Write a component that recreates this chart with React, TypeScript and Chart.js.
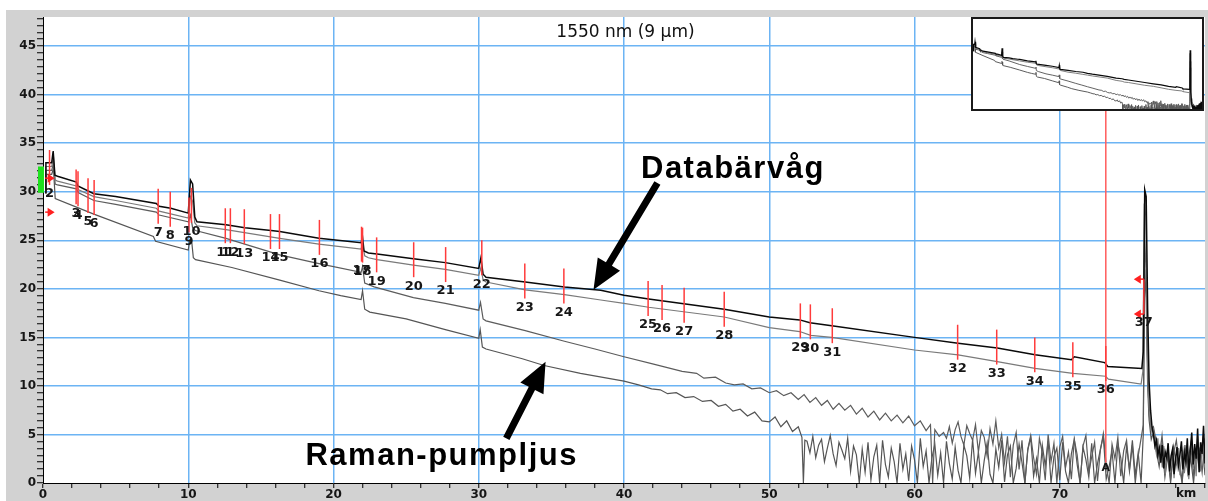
import React, { useEffect, useRef } from 'react';
import { Chart, registerables } from 'chart.js';

Chart.register(...registerables);

// ---------------- Data ----------------
const TITLE = '1550 nm (9 µm)';
const LABEL_DATA = 'Databärvåg';
const LABEL_RAMAN = 'Raman-pumpljus';
const X_MIN = 0;
const X_MAX = 80;
const Y_MIN = 0;
const Y_MAX = 48;
const X_UNIT = 'km';

// Trace A (black, data carrier)
const A_km = [0.15, 0.2, 0.6, 0.7, 0.82, 1.0, 2.3, 2.4, 3.5, 5.0, 7.8, 8.0, 8.8, 10.0, 10.15, 10.3, 10.45, 10.6, 12.6, 13.9, 15.7, 16.3, 19.0, 21.9, 22.0, 22.1, 22.4, 23.0, 25.5, 27.7, 30.0, 30.15, 30.3, 30.5, 33.2, 35.9, 38.4, 40.0, 41.7, 46.9, 50.0, 52.1, 52.8, 54.3, 60.0, 63.0, 65.7, 68.3, 70.8, 71.0, 73.1, 73.3, 75.65, 75.75, 75.85, 75.95, 76.05, 76.15, 76.25, 76.35];
const A_db = [29.9, 33.0, 33.0, 34.2, 31.7, 31.6, 31.0, 30.6, 29.8, 29.5, 28.8, 28.5, 28.3, 27.8, 31.2, 30.8, 27.4, 26.9, 26.6, 26.3, 26.0, 25.9, 25.2, 24.75, 25.3, 23.9, 23.7, 23.6, 23.1, 22.7, 22.1, 23.2, 21.5, 21.2, 20.7, 20.2, 19.85, 19.35, 18.95, 17.9, 17.1, 16.8, 16.5, 16.2, 15.0, 14.4, 13.9, 13.2, 12.7, 13.0, 12.4, 12.0, 11.8, 13.5, 30.2, 29.5, 18.0, 10.5, 7.5, 5.8];
const A_tail = [5.0, 3.8, 4.4, 2.9, 3.6, 2.1, 3.9, 1.5, 3.2, 2.6, 4.1, 1.2, 2.8, 3.5, 0.9, 2.4, 3.7, 1.8, 2.9, 4.3, 1.4, 3.1, 2.2, 4.6, 0.8, 3.3, 5.2, 1.9, 4.0, 2.5, 5.6, 1.1, 4.2, 3.0, 5.9, 2.0];

// Trace B (gray)
const B_km = [0.15, 0.2, 0.6, 0.72, 0.84, 1.0, 2.3, 2.45, 3.5, 5.0, 7.8, 8.0, 10.0, 10.15, 10.3, 10.45, 10.6, 12.6, 16.3, 19.0, 21.9, 22.0, 22.15, 22.4, 23.0, 25.5, 27.7, 30.0, 30.15, 30.3, 30.5, 33.2, 35.9, 38.4, 40.0, 41.7, 46.9, 50.0, 52.1, 52.85, 54.3, 60.0, 63.0, 65.7, 68.3, 70.9, 73.15, 73.35, 75.6, 75.72, 75.82, 75.92, 76.02, 76.12, 76.22, 76.35];
const B_db = [29.9, 32.6, 32.6, 33.6, 31.2, 31.1, 30.6, 30.2, 29.5, 29.1, 28.3, 28.0, 27.3, 29.5, 29.0, 26.8, 26.5, 26.1, 25.2, 24.6, 24.1, 24.7, 23.4, 23.2, 23.0, 22.45, 22.0, 21.4, 22.2, 20.9, 20.7, 19.9, 19.4, 18.85, 18.5, 18.1, 17.1, 16.0, 15.6, 15.2, 15.0, 13.7, 13.2, 12.5, 11.8, 11.3, 11.0, 10.7, 10.2, 11.5, 28.8, 27.5, 14.0, 8.5, 6.5, 5.2];
const B_tail = [5.5, 4.1, 3.0, 4.6, 2.2, 3.4, 1.6, 3.8, 0.9, 2.7, 3.9, 1.3, 2.4, 3.3, 0.5, 2.9, 1.7, 3.6, 0.8, 2.6, 3.4, 1.0, 2.2, 3.9, 0.4, 2.8, 4.4, 1.5, 3.2, 0.7, 4.8, 2.3, 1.2, 3.7, 5.0, 1.6];

// Trace C (gray)
const C_km = [0.15, 0.2, 0.6, 0.72, 0.84, 1.0, 2.3, 2.45, 3.5, 5.0, 7.8, 8.0, 10.0, 10.15, 10.3, 10.5, 12.6, 16.3, 19.0, 21.9, 22.0, 22.15, 22.8, 25.5, 27.7, 30.0, 30.12, 30.3, 30.5, 33.2, 35.9, 38.0, 40.0, 41.9, 44.0, 45.0, 45.5, 46.3, 47.0, 47.6, 48.2, 48.8, 49.4, 50.0, 50.5, 51.0, 51.5, 52.0, 52.4, 52.8, 53.2, 53.6, 54.0, 54.4, 54.8, 55.2, 55.6, 56.0, 56.4, 56.8, 57.2, 57.6, 58.0, 58.4, 58.8, 59.2, 59.6, 60.0, 60.4, 60.8, 61.1, 61.25, 61.4, 61.7];
const C_db = [29.9, 32.2, 32.2, 33.0, 30.8, 30.7, 30.3, 29.9, 29.1, 28.7, 27.9, 27.6, 26.9, 27.6, 26.3, 26.0, 25.2, 23.5, 22.6, 21.7, 22.3, 20.6, 20.2, 19.1, 18.5, 17.8, 18.6, 16.9, 16.7, 15.7, 14.6, 13.8, 13.0, 12.3, 11.5, 11.3, 10.8, 10.9, 10.3, 10.1, 10.2, 9.7, 9.8, 9.3, 9.5, 9.0, 9.3, 8.6, 9.1, 8.3, 8.8, 8.0, 8.5, 7.6, 8.2, 7.5, 8.0, 7.1, 7.7, 6.8, 7.4, 6.5, 7.2, 6.4, 7.0, 6.2, 6.9, 5.9, 6.4, 5.4, 6.0, 0.0, 5.5, 4.8];
const C_noise = [5.2, 4.6, 5.8, 4.1, 5.5, 6.3, 4.8, 3.9, 5.9, 5.1, 4.4, 6.0, 3.2, 5.4, 4.7, 2.8, 5.6, 4.0, 6.4, 3.6, 5.0, 2.1, 4.8, 0.6, 3.9, 5.2, 1.4, 4.4, 0.0, 3.5, 4.9, 2.6, 0.9, 4.6, 3.1, 0.3, 5.0, 2.2, 4.1, 0.0, 3.7, 4.8, 1.6, 3.2, 0.4, 4.5, 2.9, 0.0, 3.8, 4.9, 1.1, 2.7, 4.2, 0.2, 3.4, 5.1, 1.8, 0.0, 4.0, 2.5, 4.7, 0.7, 3.3, 4.4, 1.2, 3.9, 0.0, 2.8, 4.6];
const C_peak_km = [75.75, 75.85, 75.95, 76.05, 76.15, 76.3];
const C_peak_db = [6.0, 25.0, 22.0, 12.0, 7.0, 5.5];
const C_tail = [5.8, 4.2, 2.5, 4.9, 1.3, 3.6, 0.4, 3.0, 4.4, 1.8, 0.0, 3.2, 2.1, 4.0, 0.9, 2.7, 3.5, 1.1, 4.6];

// Trace D (gray, Raman pump)
const D_km = [0.15, 0.2, 0.6, 0.72, 0.84, 3.5, 7.6, 7.75, 10.0, 10.1, 10.25, 10.35, 10.5, 13.0, 16.3, 19.0, 20.5, 21.9, 22.0, 22.15, 22.5, 25.0, 27.7, 30.0, 30.1, 30.25, 30.5, 33.0, 34.5, 37.0, 40.0, 41.0, 41.9, 42.5, 43.0, 43.6, 44.2, 44.8, 45.4, 46.0, 46.5, 47.0, 47.5, 48.0, 48.5, 49.0, 49.5, 50.0, 50.4, 50.8, 51.2, 51.6, 52.0, 52.25, 52.35, 52.45];
const D_db = [29.9, 31.8, 31.8, 32.4, 29.3, 27.7, 25.4, 24.9, 24.0, 25.0, 24.7, 23.2, 23.0, 22.2, 20.9, 19.8, 19.3, 18.9, 19.8, 17.9, 17.6, 16.9, 15.8, 14.9, 15.8, 14.0, 13.8, 12.8, 12.1, 11.3, 10.5, 10.1, 9.7, 9.6, 9.2, 9.3, 8.8, 8.9, 8.4, 8.5, 7.9, 8.1, 7.4, 7.6, 6.9, 7.3, 6.4, 6.3, 6.8, 5.8, 6.4, 5.3, 5.8, 4.7, 0.0, 4.4];
const D_noise = [4.3, 3.1, 4.8, 2.6, 3.9, 4.5, 2.2, 3.6, 4.9, 3.0, 1.8, 4.2, 3.4, 2.5, 4.6, 1.2, 3.8, 2.9, 0.0, 3.5, 1.1, 4.2, 0.3, 2.7, 3.9, 0.0, 4.4, 1.9, 0.6, 3.6, 2.2, 0.0, 4.1, 1.4, 3.0, 0.2, 3.8, 2.4, 0.0, 4.6, 1.7, 3.3, 0.0, 2.6, 4.0, 0.8, 3.1, 0.0, 4.3, 2.0, 0.4, 3.7, 1.3, 0.0, 3.9, 2.8, 0.5, 4.5, 1.0, 3.2, 0.0, 2.3, 4.1, 0.9, 0.0, 3.5, 1.6, 4.4, 0.1, 2.9, 3.8, 0.0, 1.5, 4.0, 2.1, 0.0, 3.4, 4.7, 0.7, 2.5, 0.0, 3.9, 1.8, 4.3, 0.0, 2.7, 3.6, 0.3, 4.2, 1.2, 0.0, 3.0, 4.5, 1.9, 0.0, 3.7, 2.4, 0.6, 4.1, 0.0, 2.0, 3.5, 4.8, 0.4, 1.7, 3.3, 0.0, 4.0, 2.6, 0.0, 3.8, 1.4, 4.4, 0.8, 3.1, 0.0];
const D_peak_km = [75.75, 75.85, 75.95, 76.05, 76.15, 76.3];
const D_peak_db = [5.0, 22.0, 19.0, 10.0, 6.5, 4.5];
const D_tail = [5.2, 3.3, 1.7, 4.1, 0.6, 2.8, 0.0, 3.7, 1.9, 2.4, 0.2, 3.9, 1.0, 2.6, 0.0, 3.4, 1.5, 4.2, 0.8];

// Events (numbered markers)
const eventLabels = ['2', '3', '4', '5', '6', '7', '8', '9', '10', '11', '12', '13', '14', '15', '16', '17', '18', '19', '20', '21', '22', '23', '24', '25', '26', '27', '28', '29', '30', '31', '32', '33', '34', '35', '36', '37'];
const eventKm = [0.45, 2.28, 2.41, 3.10, 3.52, 7.93, 8.76, 10.05, 10.22, 12.55, 12.90, 13.86, 15.66, 16.28, 19.03, 21.93, 22.00, 22.97, 25.52, 27.72, 30.21, 33.17, 35.86, 41.66, 42.62, 44.14, 46.90, 52.14, 52.83, 54.34, 62.97, 65.66, 68.28, 70.90, 73.17, 75.79];
const eventTopDb = [34.3, 32.3, 32.1, 31.4, 31.2, 30.3, 30.0, 29.4, 30.4, 28.3, 28.3, 28.2, 27.7, 27.7, 27.1, 26.4, 26.3, 25.3, 24.8, 24.3, 25.0, 22.6, 22.1, 20.8, 20.4, 20.1, 19.7, 18.5, 18.4, 18.0, 16.3, 15.8, 15.0, 14.5, 14.1, 21.0];
const EVENT_SPAN_DB = 3.6;

// Start / end markers
const startArrowDb = [31.4, 27.9];
const startArrowKm = [0.15, 0.8];
const endArrowDb = [21.0, 17.4];
const endArrowKm = [75.1, 75.79];
const launchBoxDb = [32.6, 29.9];
const cursorKm = 73.17;
const cursorBottomDb = 2.1;
const cursorLabel = 'A';

// Annotation positions (data units)
const dataArrow = { fromKm: 42.3, fromDb: 30.9, toKm: 37.9, toDb: 19.9 };
const ramanArrow = { fromKm: 31.9, fromDb: 4.6, toKm: 34.6, toDb: 12.5 };
const dataTextPos = { km: 41.17, db: 31.4 };
const ramanTextPos = { km: 18.07, db: 1.85 };
const titlePos = { km: 40.1, db: 46.35 };
const unitPos = { km: 78.7 };

// ---------------- Helpers ----------------
function pairs(km: number[], db: number[]) {
  return km.map((x, i) => ({ x, y: db[i] }));
}
function grid(start: number, end: number, values: number[]) {
  const step = (end - start) / (values.length - 1);
  return values.map((v, i) => ({ x: start + i * step, y: v }));
}

const seriesA = [...pairs(A_km, A_db), ...grid(76.45, 80, A_tail)];
const seriesB = [...pairs(B_km, B_db), ...grid(76.45, 80, B_tail)];
const seriesC = [...pairs(C_km, C_db), ...grid(62.0, 75.6, C_noise), ...pairs(C_peak_km, C_peak_db), ...grid(76.45, 80, C_tail)];
const seriesD = [...pairs(D_km, D_db), ...grid(52.6, 75.6, D_noise), ...pairs(D_peak_km, D_peak_db), ...grid(76.45, 80, D_tail)];

const yTickValues: number[] = [];
for (let k = 0; (k * 5) / 7 <= Y_MAX; k++) yTickValues.push((k * 5) / 7);
const xTickValues: number[] = [];
for (let v = X_MIN; v <= X_MAX; v += 2) xTickValues.push(v);

const isMult = (v: number, m: number) => Math.abs(v / m - Math.round(v / m)) < 1e-6;

const GRID_BLUE = '#6cb4f4';
const FRAME_GRAY = '#d2d2d2';
const MARK_RED = '#ff3b3b';
const TEXT_DARK = '#161616';

function makeDatasets(widthScale: number) {
  return [
    { data: seriesA, borderColor: '#0a0a0a', borderWidth: 1.5 * widthScale },
    { data: seriesB, borderColor: '#7a7a7a', borderWidth: 1.2 * widthScale },
    { data: seriesC, borderColor: '#5c5c5c', borderWidth: 1.2 * widthScale },
    { data: seriesD, borderColor: '#555555', borderWidth: 1.2 * widthScale },
  ].map((d) => ({ ...d, pointRadius: 0, tension: 0, fill: false, spanGaps: true }));
}

function drawBigArrow(ctx: CanvasRenderingContext2D, x1: number, y1: number, x2: number, y2: number, shaftW: number, headLen: number, headW: number) {
  const dx = x2 - x1, dy = y2 - y1;
  const L = Math.hypot(dx, dy);
  const ux = dx / L, uy = dy / L;
  const px = -uy, py = ux;
  const bx = x2 - ux * headLen, by = y2 - uy * headLen;
  ctx.beginPath();
  ctx.moveTo(x1 + (px * shaftW) / 2, y1 + (py * shaftW) / 2);
  ctx.lineTo(bx + (px * shaftW) / 2, by + (py * shaftW) / 2);
  ctx.lineTo(bx + (px * headW) / 2, by + (py * headW) / 2);
  ctx.lineTo(x2, y2);
  ctx.lineTo(bx - (px * headW) / 2, by - (py * headW) / 2);
  ctx.lineTo(bx - (px * shaftW) / 2, by - (py * shaftW) / 2);
  ctx.lineTo(x1 - (px * shaftW) / 2, y1 - (py * shaftW) / 2);
  ctx.closePath();
  ctx.fill();
}

function smallArrow(ctx: CanvasRenderingContext2D, xFrom: number, xTo: number, y: number) {
  const dir = Math.sign(xTo - xFrom);
  ctx.beginPath();
  ctx.moveTo(xFrom, y);
  ctx.lineTo(xTo - dir * 5, y);
  ctx.stroke();
  ctx.beginPath();
  ctx.moveTo(xTo, y);
  ctx.lineTo(xTo - dir * 7, y - 4.5);
  ctx.lineTo(xTo - dir * 7, y + 4.5);
  ctx.closePath();
  ctx.fill();
}

const bgPlugin = {
  id: 'otdrBackground',
  beforeDraw(chart: any) {
    const { ctx, chartArea: a, width, height } = chart;
    ctx.save();
    ctx.fillStyle = '#ffffff';
    ctx.fillRect(0, 0, width, height);
    ctx.fillStyle = FRAME_GRAY;
    ctx.fillRect(6, 10, width - 6, height - 10);
    ctx.fillStyle = '#ffffff';
    ctx.fillRect(a.left, a.top, a.right - a.left, a.bottom - a.top);
    ctx.restore();
  },
};

const overlayPlugin = {
  id: 'otdrOverlay',
  afterDatasetsDraw(chart: any) {
    const { ctx, chartArea: a } = chart;
    const xs = chart.scales.x, ys = chart.scales.y;
    const X = (v: number) => xs.getPixelForValue(v);
    const Y = (v: number) => ys.getPixelForValue(v);
    ctx.save();

    // launch box
    ctx.fillStyle = '#1ee01e';
    ctx.fillRect(a.left - 5, Y(launchBoxDb[0]), 6, Y(launchBoxDb[1]) - Y(launchBoxDb[0]));

    // cursor line
    ctx.strokeStyle = '#ff5c5c';
    ctx.lineWidth = 1.5;
    ctx.beginPath();
    ctx.moveTo(X(cursorKm), a.top);
    ctx.lineTo(X(cursorKm), Y(cursorBottomDb));
    ctx.stroke();

    // event markers
    ctx.strokeStyle = MARK_RED;
    ctx.lineWidth = 1.5;
    eventKm.forEach((km, i) => {
      ctx.beginPath();
      ctx.moveTo(X(km), Y(eventTopDb[i]));
      ctx.lineTo(X(km), Y(eventTopDb[i] - EVENT_SPAN_DB));
      ctx.stroke();
    });

    // start / end arrows
    ctx.fillStyle = '#ff2020';
    ctx.strokeStyle = '#ff2020';
    ctx.lineWidth = 1.5;
    startArrowDb.forEach((db) => smallArrow(ctx, X(startArrowKm[0]), X(startArrowKm[1]), Y(db)));
    endArrowDb.forEach((db) => smallArrow(ctx, X(endArrowKm[1]), X(endArrowKm[0]), Y(db)));

    // event labels
    ctx.fillStyle = TEXT_DARK;
    ctx.font = 'bold 13px "DejaVu Sans"';
    ctx.textAlign = 'center';
    ctx.textBaseline = 'middle';
    eventKm.forEach((km, i) => {
      ctx.fillText(eventLabels[i], X(km), Y(eventTopDb[i] - EVENT_SPAN_DB) + 9);
    });

    // cursor label
    ctx.font = 'bold 11px "DejaVu Sans"';
    ctx.fillText(cursorLabel, X(cursorKm), Y(cursorBottomDb) + 6);

    // title
    ctx.font = '17px "DejaVu Sans"';
    ctx.fillStyle = '#111';
    ctx.fillText(TITLE, X(titlePos.km), Y(titlePos.db));

    // annotations
    ctx.fillStyle = '#000';
    drawBigArrow(ctx, X(dataArrow.fromKm), Y(dataArrow.fromDb), X(dataArrow.toKm), Y(dataArrow.toDb), 7, 30, 26);
    drawBigArrow(ctx, X(ramanArrow.fromKm), Y(ramanArrow.fromDb), X(ramanArrow.toKm), Y(ramanArrow.toDb), 7, 30, 26);
    ctx.font = 'bold 31px "Liberation Sans"';
    (ctx as any).letterSpacing = '1.5px';
    ctx.textAlign = 'left';
    ctx.textBaseline = 'alphabetic';
    ctx.fillText(LABEL_DATA, X(dataTextPos.km), Y(dataTextPos.db));
    ctx.fillText(LABEL_RAMAN, X(ramanTextPos.km), Y(ramanTextPos.db));
    (ctx as any).letterSpacing = '0px';

    // unit label
    ctx.font = 'bold 12px "DejaVu Sans"';
    ctx.fillStyle = TEXT_DARK;
    ctx.textAlign = 'center';
    ctx.textBaseline = 'middle';
    ctx.fillText(X_UNIT, X(unitPos.km), a.bottom + 11);

    ctx.restore();
  },
};

export default function App() {
  const mainRef = useRef<HTMLCanvasElement>(null);
  const insetRef = useRef<HTMLCanvasElement>(null);

  useEffect(() => {
    const main = new Chart(mainRef.current as HTMLCanvasElement, {
      type: 'line',
      data: { datasets: makeDatasets(1) as any },
      options: {
        animation: false,
        responsive: false,
        devicePixelRatio: 1,
        events: [],
        layout: { padding: { left: 6, top: 17, right: 3, bottom: 0 } },
        plugins: { legend: { display: false }, tooltip: { enabled: false } },
        scales: {
          x: {
            type: 'linear',
            min: X_MIN,
            max: X_MAX,
            afterBuildTicks: (s: any) => {
              s.ticks = xTickValues.map((v) => ({ value: v }));
            },
            afterFit: (s: any) => {
              s.height = 18;
            },
            ticks: {
              autoSkip: false,
              maxRotation: 0,
              minRotation: 0,
              padding: 0,
              color: TEXT_DARK,
              font: { family: '"DejaVu Sans"', size: 12, weight: 'bold' },
              callback: (v: any) => (isMult(Number(v), 10) && Number(v) < X_MAX ? String(Math.round(Number(v))) : ''),
            },
            grid: {
              color: (c: any) => {
                const v = c.tick ? c.tick.value : 0;
                return v > X_MIN && v < X_MAX && isMult(v, 10) ? GRID_BLUE : 'rgba(0,0,0,0)';
              },
              lineWidth: 1.5,
              tickColor: '#000',
              tickWidth: 1,
              tickLength: 5,
            },
            border: { display: true, color: '#000', width: 1 },
          },
          y: {
            type: 'linear',
            min: Y_MIN,
            max: Y_MAX,
            afterBuildTicks: (s: any) => {
              s.ticks = yTickValues.map((v) => ({ value: v }));
            },
            afterFit: (s: any) => {
              s.width = 37;
            },
            ticks: {
              autoSkip: false,
              padding: 1,
              color: TEXT_DARK,
              font: { family: '"DejaVu Sans"', size: 12, weight: 'bold' },
              callback: (v: any) => (isMult(Number(v), 5) ? String(Math.round(Number(v))) : ''),
            },
            grid: {
              color: (c: any) => {
                const v = c.tick ? c.tick.value : 0;
                return v > Y_MIN + 0.01 && v < Y_MAX && isMult(v, 5) ? GRID_BLUE : 'rgba(0,0,0,0)';
              },
              lineWidth: 1.5,
              tickColor: '#000',
              tickWidth: 1,
              tickLength: 6,
            },
            border: { display: true, color: '#000', width: 1 },
          },
        },
      } as any,
      plugins: [bgPlugin, overlayPlugin],
    });

    const inset = new Chart(insetRef.current as HTMLCanvasElement, {
      type: 'line',
      data: { datasets: makeDatasets(0.8) as any },
      options: {
        animation: false,
        responsive: false,
        devicePixelRatio: 1,
        events: [],
        layout: { padding: 0 },
        plugins: { legend: { display: false }, tooltip: { enabled: false } },
        scales: {
          x: { type: 'linear', min: X_MIN, max: X_MAX, display: false },
          y: { type: 'linear', min: 2.5, max: 45, display: false },
        },
      } as any,
    });

    return () => {
      main.destroy();
      inset.destroy();
    };
  }, []);

  return (
    <div style={{ position: 'absolute', left: 0, top: 0, width: 1208, height: 501, background: '#fff', overflow: 'hidden' }}>
      <canvas ref={mainRef} width={1208} height={501} style={{ position: 'absolute', left: 0, top: 0, width: 1208, height: 501 }} />
      <div
        style={{
          position: 'absolute',
          left: 971,
          top: 17,
          width: 233,
          height: 94,
          boxSizing: 'border-box',
          border: '2px solid #1a1a1a',
          background: '#fff',
        }}
      >
        <canvas ref={insetRef} width={229} height={90} style={{ display: 'block', width: 229, height: 90 }} />
      </div>
    </div>
  );
}
